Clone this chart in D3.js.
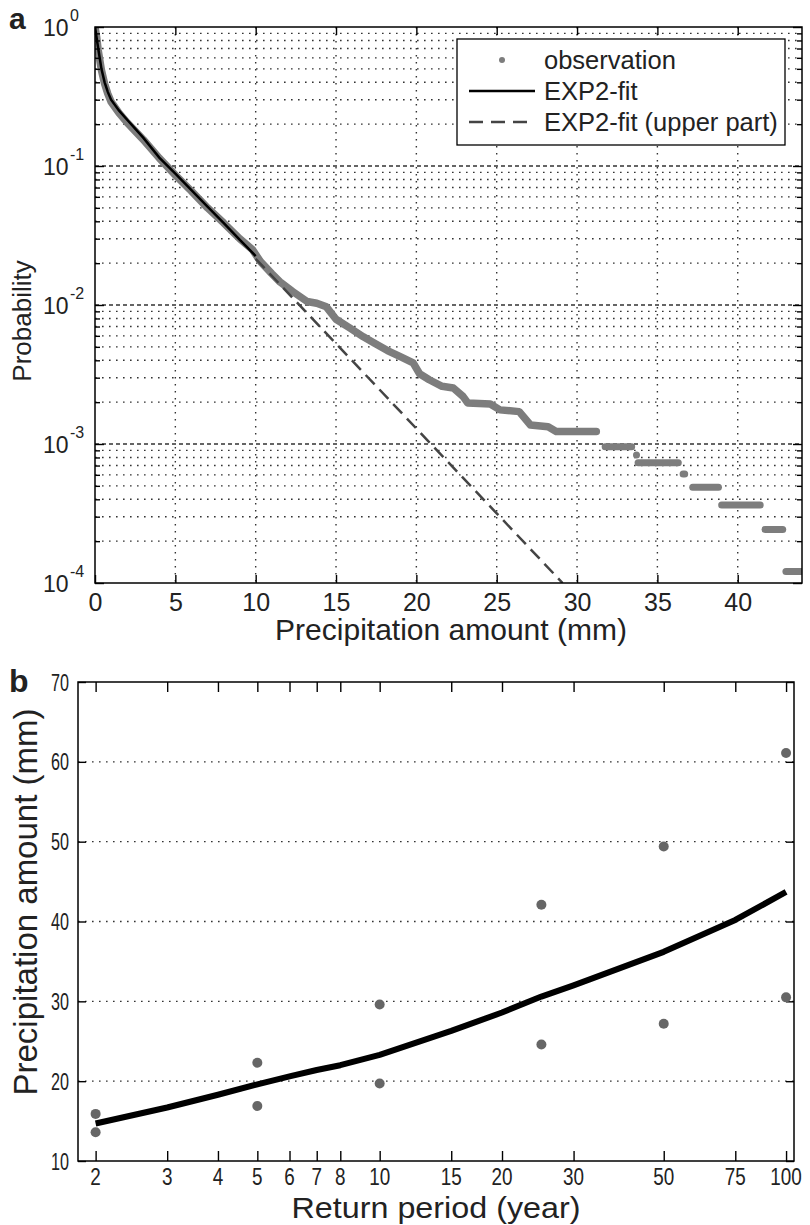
<!DOCTYPE html>
<html>
<head>
<meta charset="utf-8">
<script src="https://cdn.jsdelivr.net/npm/d3@7"></script>
<style>
body { margin: 0; background: #fff; }
svg text { font-family: "Liberation Sans", Arial, sans-serif; fill: #222; }
</style>
</head>
<body>
<svg id="chart" width="810" height="1225"></svg>
<script>
// ---- panel a data: exceedance probability vs precipitation (mm)
const obsCurve = [
    [0, 1], [0.1, 0.85], [0.2, 0.68], [0.4, 0.49], [0.6, 0.39], [0.8, 0.33], [1, 0.29],
    [1.5, 0.24], [2, 0.205], [2.5, 0.178], [3, 0.155], [4, 0.114], [5, 0.086], [6, 0.066],
    [7, 0.05], [8, 0.039], [9, 0.03], [9.8, 0.025], [10.3, 0.0205], [11, 0.0168], [11.5, 0.0147],
    [12.3, 0.0125], [13.2, 0.0106], [13.8, 0.0103], [14.4, 0.0097], [15, 0.0079], [15.8, 0.0069],
    [16.7, 0.0059], [17.4, 0.0053], [18.2, 0.0047], [19, 0.00425], [19.8, 0.00383], [20.2, 0.0032],
    [20.8, 0.0029], [21.6, 0.0026], [22.3, 0.00253], [22.9, 0.0022], [23.2, 0.00197], [24.6, 0.00194],
    [25.2, 0.00176], [26.4, 0.00171], [27.1, 0.00137], [28.2, 0.00133], [28.7, 0.00123], [31.2, 0.00123]
];
// tail of the observations: [x start, x end, probability]
const obsSteps = [
    [31.75, 33.4, 0.000957], [33.7, 33.7, 0.000834], [33.8, 36.3, 0.000733], [36.6, 36.7, 0.000608],
    [37.2, 38.8, 0.000488], [39.0, 41.4, 0.000364], [41.7, 42.8, 0.000243], [43.0, 44.5, 0.000121]
];
const fitSolid = [
    [0, 1], [0.2, 0.7], [0.4, 0.5], [0.6, 0.4], [0.8, 0.34], [1, 0.3], [1.5, 0.25], [2, 0.215],
    [3, 0.16], [4, 0.115], [5, 0.088], [6, 0.067], [7, 0.051], [8, 0.039], [9, 0.0295], [10, 0.0225]
];
const fitUpper = [[10, 0.0215], [29.1, 0.0001]];
const xTicksA = [0, 5, 10, 15, 20, 25, 30, 35, 40];
const yDecadesA = [1, 0.1, 0.01, 0.001, 0.0001];
const legendLabels = ["observation", "EXP2-fit", "EXP2-fit (upper part)"];

// ---- panel b data: return level vs return period
const returnPeriods = [2, 3, 4, 5, 6, 7, 8, 10, 15, 20, 25, 30, 50, 75, 100];
const fitAmount = [14.7, 16.7, 18.3, 19.6, 20.6, 21.4, 22.0, 23.3, 26.3, 28.6, 30.6, 32.0, 36.2, 40.2, 43.7];
const obsPeriods = [2, 2, 5, 5, 10, 10, 25, 25, 50, 50, 100, 100];
const obsAmounts = [15.9, 13.6, 22.3, 16.9, 29.6, 19.7, 42.1, 24.6, 49.4, 27.2, 61.1, 30.5];
const xTicksB = [2, 3, 4, 5, 6, 7, 8, 10, 15, 20, 30, 50, 75, 100];
const yTicksB = [10, 20, 30, 40, 50, 60, 70];

const svg = d3.select("#chart");
const DOT = "1.6,5.4";

// ================= panel a =================
const A = { left: 95, right: 802, top: 27, bottom: 583 };
const xa = d3.scaleLinear().domain([0, 44]).range([A.left, A.right]);
const ya = d3.scaleLog().domain([1e-4, 1]).range([A.bottom, A.top]);

const minorA = [];
yDecadesA.slice(1).forEach(d => { for (let k = 2; k <= 9; k++) minorA.push(k * d); });

svg.append("defs").append("clipPath").attr("id", "clipA")
    .append("rect").attr("x", A.left).attr("y", A.top)
    .attr("width", A.right - A.left).attr("height", A.bottom - A.top);

const grid = svg.append("g").attr("stroke", "#333").attr("stroke-width", 1.4);
grid.selectAll(".hm").data(minorA).join("line")
    .attr("x1", A.left).attr("x2", A.right).attr("y1", d => ya(d)).attr("y2", d => ya(d))
    .attr("stroke-dasharray", DOT);
grid.selectAll(".hM").data(yDecadesA.slice(1, -1)).join("line")
    .attr("x1", A.left).attr("x2", A.right).attr("y1", d => ya(d)).attr("y2", d => ya(d))
    .attr("stroke-dasharray", "4,3");
grid.selectAll(".v").data(xTicksA.slice(1)).join("line")
    .attr("x1", d => xa(d)).attr("x2", d => xa(d)).attr("y1", A.top).attr("y2", A.bottom)
    .attr("stroke-dasharray", DOT);

const plotA = svg.append("g").attr("clip-path", "url(#clipA)");
const lineA = d3.line().x(d => xa(d[0])).y(d => ya(d[1]));

plotA.append("path").datum(obsCurve).attr("d", lineA)
    .attr("fill", "none").attr("stroke", "#7d7d7d").attr("stroke-width", 7.5)
    .attr("stroke-linejoin", "round").attr("stroke-linecap", "round");
plotA.selectAll(".step").data(obsSteps).join("line")
    .attr("x1", d => xa(d[0])).attr("x2", d => xa(d[1]))
    .attr("y1", d => ya(d[2])).attr("y2", d => ya(d[2]))
    .attr("stroke", "#7d7d7d").attr("stroke-width", 7).attr("stroke-linecap", "round");
plotA.append("path").datum(fitSolid).attr("d", lineA)
    .attr("fill", "none").attr("stroke", "#000").attr("stroke-width", 2.5);
plotA.append("path").datum(fitUpper).attr("d", lineA)
    .attr("fill", "none").attr("stroke", "#444").attr("stroke-width", 2.5)
    .attr("stroke-dasharray", "13,7");

// axes a
svg.append("g").attr("transform", `translate(0,${A.bottom})`)
    .call(d3.axisBottom(xa).tickValues(xTicksA).tickSize(-8).tickSizeOuter(0).tickPadding(10))
    .call(g => g.select(".domain").remove())
    .call(g => g.selectAll("text").attr("font-size", 25).attr("fill", "#222"));
svg.append("g").attr("transform", `translate(0,${A.top})`)
    .call(d3.axisTop(xa).tickValues(xTicksA).tickSize(-8).tickFormat(""))
    .call(g => g.select(".domain").remove());
[[d3.axisLeft, A.left], [d3.axisRight, A.right]].forEach(([ax, pos]) => {
    svg.append("g").attr("transform", `translate(${pos},0)`)
        .call(ax(ya).tickValues(yDecadesA).tickSize(-9).tickFormat(""))
        .call(g => g.select(".domain").remove());
    svg.append("g").attr("transform", `translate(${pos},0)`)
        .call(ax(ya).tickValues(minorA).tickSize(-5).tickFormat(""))
        .call(g => g.select(".domain").remove());
});
svg.selectAll(".tick line").attr("stroke", "#000").attr("stroke-width", 1.4);

svg.append("rect").attr("x", A.left).attr("y", A.top)
    .attr("width", A.right - A.left).attr("height", A.bottom - A.top)
    .attr("fill", "none").attr("stroke", "#000").attr("stroke-width", 1.5);

// 10^n labels, superscript kept as its own text
const ylabA = svg.append("g");
yDecadesA.forEach(d => {
    ylabA.append("text").attr("x", 43).attr("y", ya(d) + 9).attr("font-size", 23).text("10");
    ylabA.append("text").attr("x", 70).attr("y", ya(d) - 6).attr("font-size", 16)
        .text(String(Math.round(Math.log10(d))));
});

// legend
const lg = svg.append("g");
lg.append("rect").attr("x", 457).attr("y", 39).attr("width", 328).attr("height", 106)
    .attr("fill", "#fff").attr("stroke", "#000").attr("stroke-width", 1.3);
legendLabels.forEach((t, i) => {
    const cy = 60 + i * 31;
    lg.append("text").attr("x", 544).attr("y", cy + 9).attr("font-size", 25.5).text(t);
    if (i === 0) {
        lg.append("circle").attr("cx", 502).attr("cy", cy).attr("r", 3).attr("fill", "#7d7d7d");
    } else {
        lg.append("line").attr("x1", 469).attr("x2", 535).attr("y1", cy).attr("y2", cy)
            .attr("stroke", i === 1 ? "#000" : "#444").attr("stroke-width", 2.5)
            .attr("stroke-dasharray", i === 1 ? null : "14,8");
    }
});

svg.append("text").attr("x", 451).attr("y", 640).attr("text-anchor", "middle")
    .attr("font-size", 30).text("Precipitation amount (mm)");
svg.append("text").attr("transform", "translate(31,321) rotate(-90)").attr("text-anchor", "middle")
    .attr("font-size", 26).text("Probability");
svg.append("text").attr("x", 9).attr("y", 29).attr("font-size", 30).attr("font-weight", "bold").text("a");

// ================= panel b =================
const B = { left: 78, right: 794, top: 682, bottom: 1161 };
const xb = d3.scaleLog().domain([1.81, 104.6]).range([B.left, B.right]);
const yb = d3.scaleLinear().domain([10, 70]).range([B.bottom, B.top]);

svg.append("g").selectAll("line").data(yTicksB.slice(1, -1)).join("line")
    .attr("x1", B.left).attr("x2", B.right).attr("y1", d => yb(d)).attr("y2", d => yb(d))
    .attr("stroke", "#333").attr("stroke-width", 1.4).attr("stroke-dasharray", DOT);

const axB = svg.append("g");
axB.append("g").attr("transform", `translate(0,${B.bottom})`)
    .call(d3.axisBottom(xb).tickValues(xTicksB).tickSize(-10).tickFormat(""))
    .call(g => g.select(".domain").remove());
axB.append("g").attr("transform", `translate(0,${B.top})`)
    .call(d3.axisTop(xb).tickValues(xTicksB).tickSize(-10).tickFormat(""))
    .call(g => g.select(".domain").remove());
axB.append("g").attr("transform", `translate(${B.left},0)`)
    .call(d3.axisLeft(yb).tickValues(yTicksB).tickSize(-8).tickFormat(""))
    .call(g => g.select(".domain").remove());
axB.append("g").attr("transform", `translate(${B.right},0)`)
    .call(d3.axisRight(yb).tickValues(yTicksB).tickSize(-8).tickFormat(""))
    .call(g => g.select(".domain").remove());
axB.selectAll(".tick line").attr("stroke", "#000").attr("stroke-width", 1.4);

axB.selectAll(".xl").data(xTicksB).join("text")
    .attr("x", d => xb(d)).attr("y", 1185).attr("text-anchor", "middle").attr("font-size", 23)
    .attr("textLength", d => String(d).length * 10.5).attr("lengthAdjust", "spacingAndGlyphs")
    .text(d => d);
axB.selectAll(".yl").data(yTicksB).join("text")
    .attr("x", 69).attr("y", d => yb(d) + 8.5).attr("text-anchor", "end").attr("font-size", 24)
    .attr("textLength", 18).attr("lengthAdjust", "spacingAndGlyphs")
    .text(d => d);

const fitB = returnPeriods.map((t, i) => [t, fitAmount[i]]);
svg.append("path").datum(fitB)
    .attr("d", d3.line().x(d => xb(d[0])).y(d => yb(d[1])))
    .attr("fill", "none").attr("stroke", "#000").attr("stroke-width", 6)
    .attr("stroke-linejoin", "round");
svg.append("g").selectAll("circle").data(obsPeriods.map((t, i) => [t, obsAmounts[i]])).join("circle")
    .attr("cx", d => xb(d[0])).attr("cy", d => yb(d[1])).attr("r", 5).attr("fill", "#666");

svg.append("rect").attr("x", B.left).attr("y", B.top)
    .attr("width", B.right - B.left).attr("height", B.bottom - B.top)
    .attr("fill", "none").attr("stroke", "#000").attr("stroke-width", 1.5);

svg.append("text").attr("x", 436).attr("y", 1218).attr("text-anchor", "middle")
    .attr("font-size", 29).attr("textLength", 289).attr("lengthAdjust", "spacingAndGlyphs")
    .text("Return period (year)");
svg.append("text").attr("transform", "translate(37,902) rotate(-90)").attr("text-anchor", "middle")
    .attr("font-size", 33).text("Precipitation amount (mm)");
svg.append("text").attr("x", 9).attr("y", 692).attr("font-size", 32).attr("font-weight", "bold").text("b");
</script>
</body>
</html>
